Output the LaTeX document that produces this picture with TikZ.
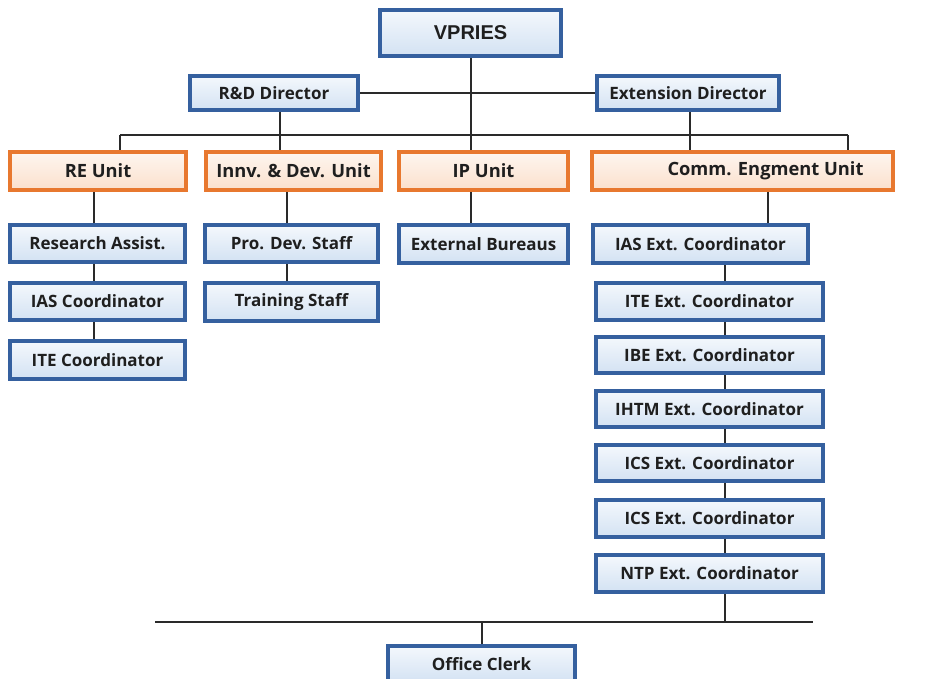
\documentclass[tikz,border=0pt]{standalone}
\usepackage{fontspec}
\setmainfont{Open Sans}
\newfontfamily\headfont{Liberation Sans}
\usetikzlibrary{backgrounds}
\definecolor{boxblue}{HTML}{35609F}
\definecolor{boxfill}{HTML}{D3E2F3}
\definecolor{boxorange}{HTML}{E8782F}
\definecolor{orangefill}{HTML}{FBE0CC}
\definecolor{linegray}{HTML}{2A2A2A}

\begin{document}
\begin{tikzpicture}[x=1pt,y=-1pt]
    \tikzstyle{bluebox} = [draw=boxblue, line width=3.2pt, top color=boxfill!25, bottom color=boxfill, inner sep=0pt, text=black!88, font=\bfseries\fontsize{17}{19}\selectfont]
    \tikzstyle{unitbox} = [draw=boxorange, line width=3.2pt, top color=orangefill!30, bottom color=orangefill, inner sep=0pt, text=black!88, font=\bfseries\fontsize{18.3}{20}\selectfont]
    \tikzstyle{link} = [draw=linegray, line width=2pt]
    \useasboundingbox (0,0) rectangle (936,679);
    % top level
    \node[bluebox, minimum width=181, minimum height=46, font=\headfont\bfseries\fontsize{20}{22}\selectfont] (vpries) at (470.5,33) {VPRIES};
    \node[bluebox, minimum width=168, minimum height=34] (rnd) at (274,93) {R\&D Director};
    \node[bluebox, minimum width=182, minimum height=34] (extdir) at (688,93) {Extension Director};
    % units
    \node[unitbox, minimum width=176, minimum height=38] (reunit) at (98,171) {RE Unit};
    \node[unitbox, minimum width=175, minimum height=38] (innv) at (293.5,171) {Innv. \& Dev. Unit};
    \node[unitbox, minimum width=169, minimum height=38] (ipunit) at (483.5,171) {IP Unit};
    \node[unitbox, minimum width=301, minimum height=38, execute at begin node=\hspace*{46pt}] (comm) at (742.5,171) {Comm. Engment Unit};
    % staff
    \node[bluebox, minimum width=175, minimum height=37] (resassist) at (97.5,243.5) {Research Assist.};
    \node[bluebox, minimum width=175, minimum height=37] (iascoord) at (97.5,301.5) {IAS Coordinator};
    \node[bluebox, minimum width=175, minimum height=38] (itecoord) at (97.5,360) {ITE Coordinator};
    \node[bluebox, minimum width=173, minimum height=37] (prodev) at (291.5,243.5) {Pro. Dev. Staff};
    \node[bluebox, minimum width=173, minimum height=38] (training) at (291.5,302) {Training Staff};
    \node[bluebox, minimum width=169, minimum height=38] (extbureau) at (483.5,244) {External Bureaus};
    \node[bluebox, minimum width=215, minimum height=38] (iasext) at (700.5,244) {IAS Ext. Coordinator};
    \node[bluebox, minimum width=227, minimum height=37] (iteext) at (709.5,301.5) {ITE Ext. Coordinator};
    \node[bluebox, minimum width=227, minimum height=36] (ibeext) at (709.5,355) {IBE Ext. Coordinator};
    \node[bluebox, minimum width=227, minimum height=36] (ihtmext) at (709.5,409) {IHTM Ext. Coordinator};
    \node[bluebox, minimum width=227, minimum height=36] (icsexta) at (709.5,463) {ICS Ext. Coordinator};
    \node[bluebox, minimum width=227, minimum height=37] (icsextb) at (709.5,518.5) {ICS Ext. Coordinator};
    \node[bluebox, minimum width=227, minimum height=37] (ntpext) at (709.5,573.5) {NTP Ext. Coordinator};
    \node[bluebox, minimum width=187, minimum height=36] (clerk) at (481.5,664) {Office Clerk};
    % where the lines run
    \coordinate (busL) at (120,135);
    \coordinate (busR) at (848,135);
    \coordinate (bustwoL) at (155,622);
    \coordinate (bustwoR) at (813,622);
    \coordinate (rndX) at (280,0);
    \coordinate (extX) at (690,0);
    \coordinate (reX) at (94,0);
    \coordinate (innvX) at (287,0);
    \coordinate (commX) at (768,0);
    \coordinate (chainX) at (725,0);
    \begin{pgfonlayer}{background}
        \draw[link] (vpries.south) -- (vpries.south |- ipunit.north);
        \draw[link] (rnd) -- (extdir);
        \draw[link] (busL) -- (busR);
        \draw[link] (busL) -- (busL |- reunit.north);
        \draw[link] (busR) -- (busR |- comm.north);
        \draw[link] (rnd.south -| rndX) -- (innv.north -| rndX);
        \draw[link] (extdir.south -| extX) -- (comm.north -| extX);
        \draw[link] (reunit.south -| reX) -- (itecoord.north -| reX);
        \draw[link] (innv.south -| innvX) -- (training.north -| innvX);
        \draw[link] (ipunit.south -| vpries.south) -- (extbureau.north -| vpries.south);
        \draw[link] (comm.south -| commX) -- (iasext.north -| commX);
        \draw[link] (iasext.south -| chainX) -- (chainX |- bustwoL);
        \draw[link] (bustwoL) -- (bustwoR);
        \draw[link] (clerk.north) -- (clerk.north |- bustwoL);
    \end{pgfonlayer}
\end{tikzpicture}
\end{document}
